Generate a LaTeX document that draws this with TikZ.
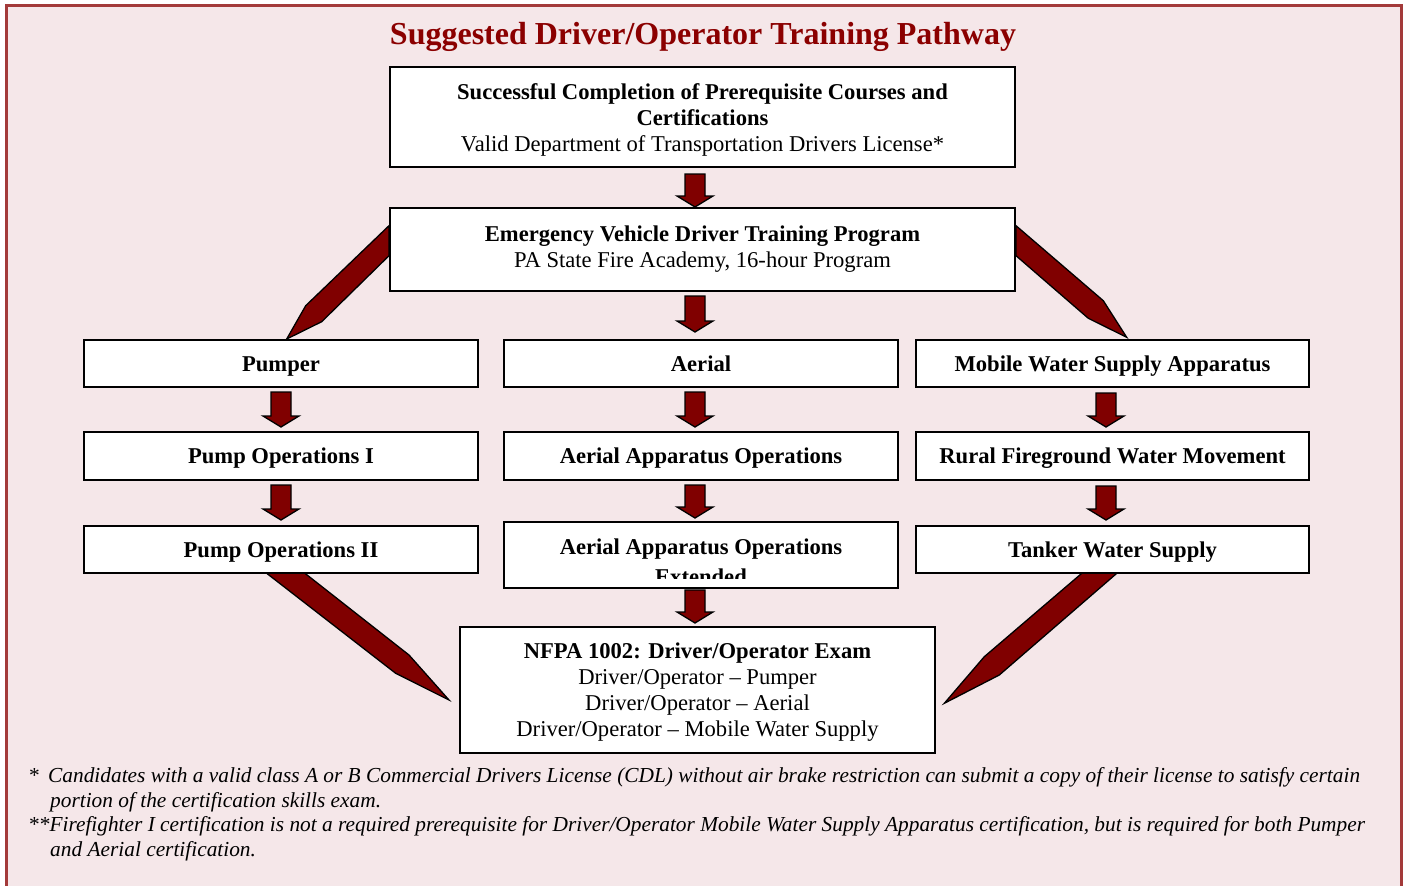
\documentclass[tikz,border=0pt]{standalone}
\usepackage{fontspec}
\setmainfont{Liberation Serif}
\usetikzlibrary{calc}
\definecolor{bgpink}{RGB}{245,231,233}
\definecolor{brd}{RGB}{163,58,58}
\definecolor{arrfill}{RGB}{128,0,0}
\definecolor{titlered}{RGB}{139,0,0}
\pgfdeclarelayer{bg}\pgfdeclarelayer{arr}\pgfsetlayers{bg,arr,main}
% #1 from node, #2 to node, #3 x centre, #4 top gap, #5 bottom gap
\newcommand\dnarrow[5]{%
  \filldraw[blockarr] let \p1=(#1.south), \p2=(#2.north) in
  ({#3-10},\y1-#4pt) -- ({#3+10},\y1-#4pt) -- ({#3+10},\y2+#5pt+11pt)
  -- ({#3+18},\y2+#5pt+11pt) -- (#3,\y2+#5pt) -- ({#3-18},\y2+#5pt+11pt)
  -- ({#3-10},\y2+#5pt+11pt) -- cycle;}
\begin{document}
\begin{tikzpicture}[x=1pt,y=-1pt,
  box/.style={draw=black,line width=2pt,fill=white,inner sep=0pt},
  sbox/.style={box,font=\fontsize{22.6}{26}\selectfont\bfseries,text height=15.5pt,text depth=0pt},
  mtxt/.style={inner sep=0pt,align=center,font=\fontsize{22.6}{26}\selectfont},
  blockarr/.style={fill=arrfill,draw=black,line width=1.3pt,line join=miter},
  txt/.style={inner sep=0pt,font=\fontsize{22.6}{26}\selectfont\bfseries},
  foot/.style={font=\fontsize{21.35}{24}\selectfont\itshape,anchor=base west,inner sep=0pt}]
\useasboundingbox (0,0) rectangle (1403,886);
\begin{pgfonlayer}{bg}
\fill[bgpink] (6,5.5) rectangle (1401,890);
\draw[brd,line width=3pt] (6,890) -- (6,5.5) -- (1401,5.5) -- (1401,890);
\end{pgfonlayer}

\node[anchor=base,inner sep=0pt,text=titlered,font=\fontsize{32}{36}\selectfont\bfseries] (title) at (703,44) {Suggested Driver/Operator Training Pathway};

\node[box,minimum width=625,minimum height=100] (top) at (702.5,117) {};
\node[mtxt] (toptxt) at ($(top.center)+(0,3)$)
  {\textbf{Successful Completion of Prerequisite Courses and}\\\textbf{Certifications}\\Valid Department of Transportation Drivers License*};
\node[box,minimum width=625,minimum height=83] (evdt) at (702.5,249.5) {};
\node[mtxt] (evdttxt) at ($(evdt.center)+(0,0)$)
  {\textbf{Emergency Vehicle Driver Training Program}\\PA State Fire Academy, 16-hour Program};

\node[sbox,minimum width=394,minimum height=47] (pumper) at (281,363.5) {Pumper};
\node[sbox,minimum width=394,minimum height=47] (aerial) at (701,363.5) {Aerial};
\node[sbox,minimum width=393,minimum height=47] (mobile) at (1112.5,363.5) {Mobile Water Supply Apparatus};

\node[sbox,minimum width=394,minimum height=48] (pump1) at (281,456) {Pump Operations I};
\node[sbox,minimum width=394,minimum height=48] (aao) at (701,456) {Aerial Apparatus Operations};
\node[sbox,minimum width=393,minimum height=48] (rural) at (1112.5,456) {Rural Fireground Water Movement};

\node[sbox,minimum width=394,minimum height=47] (pump2) at (281,549.5) {Pump Operations II};
\node[box,minimum width=394,minimum height=66] (aaoext) at (701,555) {};
\node[sbox,minimum width=393,minimum height=47] (tanker) at (1112.5,549.5) {Tanker Water Supply};
\begin{scope}
\clip (506,524) rectangle (896,578.5);
\node[txt,anchor=base] (aaoextA) at (701,554.5) {Aerial Apparatus Operations};
\node[txt,anchor=base] (aaoextB) at (701,584) {Extended};
\end{scope}

\node[box,minimum width=475,minimum height=126] (nfpa) at (697.5,690) {};
\node[mtxt] (nfpatxt) at ($(nfpa.center)+(0,2)$)
  {\textbf{NFPA 1002: Driver/Operator Exam}\\Driver/Operator – Pumper\\Driver/Operator – Aerial\\Driver/Operator – Mobile Water Supply};

\begin{pgfonlayer}{arr}
\dnarrow{top}{evdt}{695}{6}{0}
\dnarrow{evdt}{aerial}{695}{4}{7}
\dnarrow{pumper}{pump1}{281}{4}{4}
\dnarrow{pump1}{pump2}{281}{4}{5}
\dnarrow{aerial}{aao}{695}{4}{4}
\dnarrow{aao}{aaoext}{695}{4}{3}
\dnarrow{aaoext}{nfpa}{695}{1}{3}
\dnarrow{mobile}{rural}{1106}{5}{4}
\dnarrow{rural}{tanker}{1106}{5}{5}
% diagonal arrows
\coordinate (tl) at ($(pumper.north)+(5.7,0)$);
\filldraw[blockarr] ($(evdt.north west)+(0,18.7)$) -- ($(tl)+(19,-33.3)$) -- (tl)
  -- ($(tl)+(35,-17.3)$) -- ($(evdt.north west)+(0,48.7)$) -- cycle;
\coordinate (tr) at ($(mobile.north)+(14.2,-1.7)$);
\filldraw[blockarr] ($(evdt.north east)+(0,18.7)$) -- ($(tr)+(-23.4,-36.6)$) -- (tr)
  -- ($(tr)+(-38.4,-19)$) -- ($(evdt.north east)+(0,48.7)$) -- cycle;
\coordinate (bl) at ($(nfpa.west)+(-10,10)$);
\filldraw[blockarr] ($(pump2.south)+(-16,-2)$) -- ($(bl)+(-53.3,-26.7)$) -- (bl)
  -- ($(bl)+(-40,-45)$) -- ($(pump2.south)+(22.3,-2)$) -- cycle;
\coordinate (br) at ($(nfpa.east)+(8.3,13.3)$);
\filldraw[blockarr] ($(tanker.south)+(-29.2,-2)$) -- ($(br)+(40,-46.6)$) -- (br)
  -- ($(br)+(55,-28.3)$) -- ($(tanker.south)+(5.8,-2)$) -- cycle;
\end{pgfonlayer}

\node[foot] (f1a) at (28,782) {*};
\node[foot] (f1) at (48,782) {Candidates with a valid class A or B Commercial Drivers License (CDL) without air brake restriction can submit a copy of their license to satisfy certain};
\node[foot] (f2) at (50,807) {portion of the certification skills exam.};
\node[foot] (f3) at (28,831) {**Firefighter I certification is not a required prerequisite for Driver/Operator Mobile Water Supply Apparatus certification, but is required for both Pumper};
\node[foot] (f4) at (50,856) {and Aerial certification.};
\end{tikzpicture}
\end{document}
